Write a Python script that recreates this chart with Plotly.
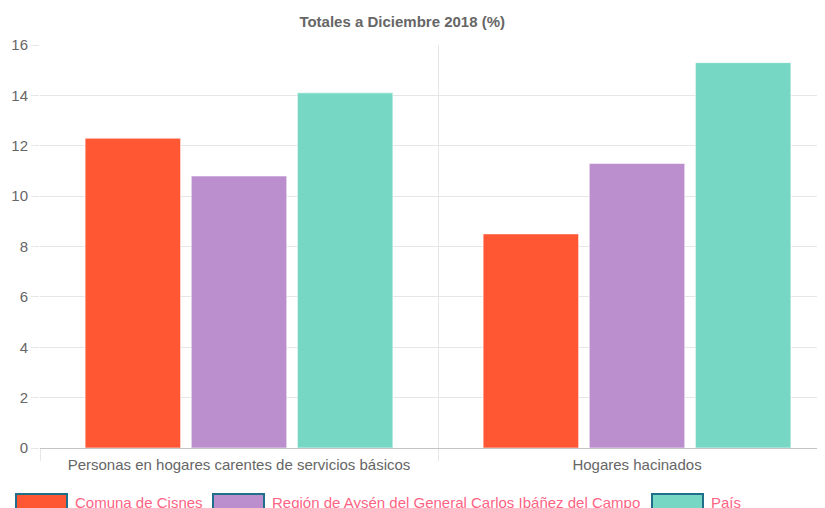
import plotly.graph_objects as go

categories = ["Personas en hogares carentes de servicios básicos", "Hogares hacinados"]
series_names = ["Comuna de Cisnes", "Región de Aysén del General Carlos Ibáñez del Campo", "País"]
comuna = [12.3, 8.5]
region = [10.8, 11.3]
pais = [14.1, 15.3]
y_ticks = [0, 2, 4, 6, 8, 10, 12, 14, 16]

colors = ["#FF5733", "#BB8FCE", "#76D7C4"]
OFF = 8  # page body margin
W, H = 825 - OFF, 508 - OFF
# target screen-pixel plot area: x 40..825, y 45..448
L, R, T, B = 40 - OFF, 0, 45 - OFF, 508 - 448
PW, PH = W - L - R, H - T - B
FONT = "Liberation Sans, Arial, sans-serif"

def px_x(sx):
    return (sx - OFF - L) / PW

def px_y(sy):
    return (H - B - (sy - OFF)) / PH

fig = go.Figure()
for name, vals, c in zip(series_names, [comuna, region, pais], colors):
    fig.add_trace(go.Bar(
        x=categories, y=vals, name=name,
        marker=dict(color=c, line=dict(color="rgba(255,255,255,0.6)", width=1)),
        showlegend=False,
    ))

# custom legend like Chart.js
legend_box_x = [15, 212, 651]
box_w = 53
for name, c, bx in zip(series_names, colors, legend_box_x):
    fig.add_shape(type="rect", xref="paper", yref="paper",
                  x0=px_x(bx + 1), x1=px_x(bx + box_w - 1), y0=px_y(494), y1=px_y(509),
                  fillcolor=c, line=dict(color="#1f6f8b", width=2), layer="above")
    fig.add_annotation(text=name, xref="paper", yref="paper", x=px_x(bx + box_w + 5), y=px_y(502),
                       xanchor="left", yanchor="middle", showarrow=False,
                       font=dict(family=FONT, size=15, color="#ff6384"))

fig.update_layout(
    width=W, height=H,
    margin=dict(l=L, r=R, t=T, b=B),
    paper_bgcolor="white", plot_bgcolor="white",
    barmode="group", bargap=0.2, bargroupgap=0.1,
    title=dict(text="<b>Totales a Diciembre 2018 (%)</b>", x=(385 - OFF) / W, xanchor="center",
               y=1 - (22 - OFF) / H, yanchor="middle", xref="paper",
               font=dict(family=FONT, size=15, color="#666666")),
    font=dict(family=FONT, color="#666666"),
)
fig.update_xaxes(
    type="category", range=[-0.5, -0.5 + PW / 398.0],
    tickson="boundaries", ticks="outside", ticklen=12, tickcolor="#e6e6e6",
    ticklabelstandoff=6,
    showgrid=True, gridcolor="#e6e6e6", gridwidth=1,
    showline=False, tickfont=dict(family=FONT, size=15, color="#666666"),
)
fig.update_yaxes(
    range=[0, 16], tickvals=y_ticks, ticks="outside", ticklen=8, tickcolor="#e6e6e6",
    showgrid=True, gridcolor="#e6e6e6", gridwidth=1,
    zeroline=True, zerolinecolor="#c4c4c4", zerolinewidth=1,
    showline=False, tickfont=dict(family=FONT, size=15, color="#666666"),
)

fig.write_html("out.html")
